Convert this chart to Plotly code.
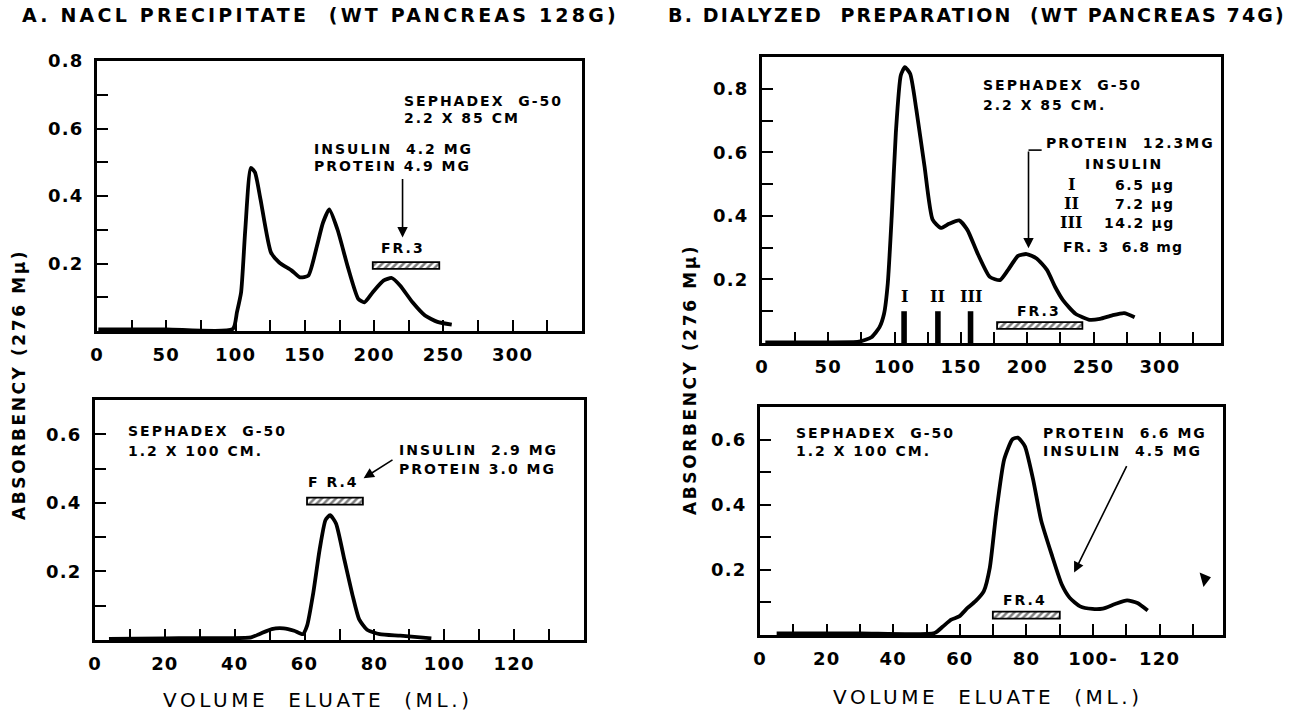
import plotly.graph_objects as go

# ---------------- data ----------------
# A. NaCl precipitate, Sephadex G-50 2.2 x 85 cm
a1_x = [1, 50, 98, 101, 104, 107, 111, 114, 118, 125.5, 131.5, 140.5, 146.5, 152.5,
        158.6, 163, 167.6, 173.6, 181, 188.6, 193, 199, 206.7, 212.7, 218.7, 227.7,
        236.7, 245.7, 256]
a1_y = [0.005, 0.005, 0.006, 0.056, 0.115, 0.30, 0.483, 0.47, 0.39, 0.233, 0.203,
        0.179, 0.159, 0.164, 0.25, 0.32, 0.36, 0.30, 0.19, 0.095, 0.085, 0.115, 0.149,
        0.157, 0.135, 0.085, 0.046, 0.027, 0.019]
a1_frac = [199, 247]          # FR.3 (ml)
a1_frac_level = 0.194

# A. Sephadex G-50 1.2 x 100 cm
a2_x = [4, 20, 44.7, 47, 50.6, 54, 57, 59.5, 60.7, 62.5, 64.3, 66, 67.3, 69, 71.4,
        73.8, 75.6, 77.9, 81.5, 87.4, 96.3]
a2_y = [0.003, 0.005, 0.008, 0.017, 0.032, 0.034, 0.027, 0.017, 0.041, 0.138, 0.263,
        0.35, 0.364, 0.34, 0.234, 0.128, 0.061, 0.03, 0.017, 0.0125, 0.005]
a2_frac = [60.7, 76.7]        # FR.4
a2_frac_level = 0.405

# B. Dialyzed preparation, Sephadex G-50 2.2 x 85 cm
b1_x = [2.5, 40, 73, 82.5, 88.6, 92, 94.8, 97.8, 100.9, 104.6, 107.7, 111.7, 116.3,
        122.5, 128.6, 134.8, 140.9, 148.6, 154.8, 162.5, 171.7, 179.4, 185.5, 193,
        199.4, 207, 214.8, 220.9, 227, 236.3, 247, 254.8, 264, 273, 280.9]
b1_y = [0.002, 0.002, 0.004, 0.018, 0.05, 0.092, 0.187, 0.40, 0.662, 0.842, 0.868,
        0.847, 0.736, 0.556, 0.388, 0.362, 0.375, 0.386, 0.356, 0.282, 0.208, 0.198,
        0.23, 0.274, 0.28, 0.266, 0.23, 0.177, 0.134, 0.092, 0.073, 0.076, 0.087,
        0.094, 0.081]
b1_ins_x = [107.1, 132.6, 157.2]       # insulin fractions I, II, III
b1_ins_y = [0.10, 0.10, 0.10]
b1_ins_lab = ["I", "II", "III"]
b1_frac = [177.2, 241.5]      # FR.3
b1_frac_level = 0.055

# B. Sephadex G-50 1.2 x 100 cm
b2_x = [5, 30, 52.4, 54.9, 57.4, 59.8, 62.3, 64.7, 67.2, 69, 70.9, 73.3, 75.8, 77.4,
        79.5, 82, 84.4, 87.5, 90.6, 93, 96.1, 99.8, 102.9, 106.6, 110.2, 113.3, 116.4]
b2_y = [0.005, 0.005, 0.006, 0.026, 0.047, 0.057, 0.083, 0.104, 0.135, 0.207, 0.373,
        0.539, 0.601, 0.606, 0.58, 0.477, 0.352, 0.249, 0.155, 0.114, 0.088, 0.08,
        0.081, 0.095, 0.106, 0.098, 0.075]
b2_frac = [69.9, 90.0]        # FR.4
b2_frac_level = 0.061
b2_mark_x = [133.5]
b2_mark_y = [0.172]

# tick values / labels
big_x_ticks = list(range(0, 326, 25))
big_x_labels = ["0", "50", "100", "150", "200", "250", "300"]
small_x_ticks = list(range(0, 131, 10))
a_small_x_labels = ["0", "20", "40", "60", "80", "100", "120"]
b_small_x_labels = ["0", "20", "40", "60", "80", "100-", "120"]
y_labels = ["0.2", "0.4", "0.6", "0.8"]

# ---------------- styling helpers ----------------
FONT = "DejaVu Sans"
W, H = 1291, 716


def sp(t, s):
    return f'<span style="letter-spacing:{s}px">{t}</span>'


def dom_x(p0, p1):
    return [p0 / W, p1 / W]


def dom_y(p_top, p_bot):
    return [1 - p_bot / H, 1 - p_top / H]


fig = go.Figure()


def curve(x, y, xa, ya):
    fig.add_trace(go.Scatter(
        x=x, y=y, mode="lines", xaxis=xa, yaxis=ya, showlegend=False,
        hoverinfo="skip",
        line=dict(color="black", width=3.8, shape="spline", smoothing=0.55)))


def frac_bar(fr, level, th, xa, ya):
    fig.add_trace(go.Bar(
        x=[fr[1] - fr[0]], y=[level], base=[fr[0]], orientation="h", width=[th],
        xaxis=xa, yaxis=ya, showlegend=False, hoverinfo="skip",
        marker=dict(color="white", line=dict(color="black", width=1.8),
                    pattern=dict(shape="/", fgcolor="black", bgcolor="white",
                                 size=5, solidity=0.5))))


curve(a1_x, a1_y, "x", "y")
frac_bar(a1_frac, a1_frac_level, 0.02, "x", "y")
curve(a2_x, a2_y, "x2", "y2")
frac_bar(a2_frac, a2_frac_level, 0.02, "x2", "y2")
curve(b1_x, b1_y, "x3", "y3")
frac_bar(b1_frac, b1_frac_level, 0.021, "x3", "y3")
fig.add_trace(go.Bar(x=b1_ins_x, y=b1_ins_y, width=4.2, xaxis="x3", yaxis="y3",
                     marker=dict(color="black", line=dict(width=0)),
                     showlegend=False, hoverinfo="skip"))
curve(b2_x, b2_y, "x4", "y4")
frac_bar(b2_frac, b2_frac_level, 0.022, "x4", "y4")
fig.add_trace(go.Scatter(x=b2_mark_x, y=b2_mark_y, mode="markers", xaxis="x4",
                         yaxis="y4", showlegend=False, hoverinfo="skip",
                         marker=dict(symbol="triangle-right", size=13, angle=-15,
                                     color="black")))


def tick_text(vals, labels, every):
    out = []
    k = 0
    for i, v in enumerate(vals):
        if i % every == 0 and k < len(labels):
            out.append("<b>" + sp(labels[k], 1.2) + "</b>")
            k += 1
        else:
            out.append("")
    return out


def axis(domain, rng, tickvals, ticktext, anchor, is_x):
    d = dict(domain=domain, range=rng, anchor=anchor, showline=True, mirror=True,
             linecolor="black", linewidth=2.6, ticks="inside", ticklen=11,
             tickwidth=2, tickcolor="black", showgrid=False, zeroline=False,
             tickmode="array", tickvals=tickvals, ticktext=ticktext,
             tickfont=dict(family=FONT, size=18, color="black"), fixedrange=True,
             automargin=False, ticklabelstandoff=6 if is_x else 7)
    return d


y_vals_8 = [round(0.1 * i, 1) for i in range(1, 9)]
y_vals_6 = [round(0.1 * i, 1) for i in range(1, 7)]
y_text_8 = ["", "0.2", "", "0.4", "", "0.6", "", "0.8"]
y_text_8 = ["<b>" + sp(t, 1.2) + "</b>" if t else "" for t in y_text_8]
y_text_6 = y_text_8[:6]

fig.update_layout(
    width=W, height=H, margin=dict(l=0, r=0, t=0, b=0),
    paper_bgcolor="white", plot_bgcolor="white", barmode="overlay",
    font=dict(family=FONT, color="black"),
    xaxis=axis(dom_x(97, 582), [0, 350], big_x_ticks,
               tick_text(big_x_ticks, big_x_labels, 2), "y", True),
    yaxis=axis(dom_y(61, 331), [0, 0.8], y_vals_8, y_text_8, "x", False),
    xaxis2=axis(dom_x(95, 584), [0, 140], small_x_ticks,
                tick_text(small_x_ticks, a_small_x_labels, 2), "y2", True),
    yaxis2=axis(dom_y(400, 640), [0, 0.7], y_vals_6, y_text_6, "x2", False),
    xaxis3=axis(dom_x(762, 1221), [0, 346], big_x_ticks,
                tick_text(big_x_ticks, big_x_labels, 2), "y3", True),
    yaxis3=axis(dom_y(57, 343), [0, 0.9], y_vals_8, y_text_8, "x3", False),
    xaxis4=axis(dom_x(760, 1223), [0, 139], small_x_ticks,
                tick_text(small_x_ticks, b_small_x_labels, 2), "y4", True),
    yaxis4=axis(dom_y(407, 635), [0, 0.7], y_vals_6, y_text_6, "x4", False),
)

ann = []


def txt(t, x, y, xa, ya, anchor="left", size=14, s=2.0, family=FONT, bold=True):
    body = sp(t, s)
    if bold:
        body = "<b>" + body + "</b>"
    ann.append(dict(text=body, x=x, y=y, xref=xa, yref=ya, xanchor=anchor,
                    yanchor="middle", showarrow=False,
                    font=dict(family=family, size=size, color="black")))


def arrow(x0, y0, x1, y1, xa, ya):
    ann.append(dict(text="", x=x1, y=y1, ax=x0, ay=y0, xref=xa, yref=ya,
                    axref=xa, ayref=ya, showarrow=True, arrowhead=2,
                    arrowsize=1.3, arrowwidth=1.6, arrowcolor="black"))


# Panel A top
txt("SEPHADEX  G-50", 220, 0.68, "x", "y")
txt("2.2 X 85 CM", 220, 0.63, "x", "y")
txt("INSULIN  4.2 MG", 155.5, 0.54, "x", "y")
txt("PROTEIN 4.9 MG", 155.5, 0.49, "x", "y")
txt("FR.3", 221, 0.245, "x", "y", anchor="center")
arrow(220.5, 0.455, 220.5, 0.277, "x", "y")

# Panel A bottom
txt("SEPHADEX  G-50", 8.9, 0.61, "x2", "y2")
txt("1.2 X 100 CM.", 8.9, 0.552, "x2", "y2")
txt("INSULIN  2.9 MG", 86.5, 0.554, "x2", "y2")
txt("PROTEIN 3.0 MG", 86.5, 0.499, "x2", "y2")
txt("F R.4", 68.4, 0.46, "x2", "y2", anchor="center")
arrow(85.6, 0.528, 76.9, 0.472, "x2", "y2")

# Panel B top
txt("SEPHADEX  G-50", 165, 0.812, "x3", "y3")
txt("2.2 X 85 CM.", 165, 0.749, "x3", "y3")
txt("PROTEIN  12.3MG", 212.3, 0.63, "x3", "y3")
txt("INSULIN", 273, 0.562, "x3", "y3", anchor="center")
for lab, val, yy in zip(["I", "II", "III"], ["6.5 μg", "7.2 μg", "14.2 μg"],
                        [0.498, 0.438, 0.379]):
    txt(lab, 233, yy, "x3", "y3", anchor="center", size=16, s=0,
        family="DejaVu Serif", bold=True)
    txt(val, 313, yy, "x3", "y3", anchor="right", s=1.6)
txt("FR. 3  6.8 mg", 225.5, 0.303, "x3", "y3", s=1.2)
for lab, xx in zip(b1_ins_lab, b1_ins_x):
    txt(lab, xx, 0.145, "x3", "y3", anchor="center", size=16, s=0,
        family="DejaVu Serif", bold=True)
txt("FR.3", 208.6, 0.102, "x3", "y3", anchor="center")
arrow(200.9, 0.607, 200.9, 0.298, "x3", "y3")

# Panel B bottom
txt("SEPHADEX  G-50", 10.3, 0.62, "x4", "y4")
txt("1.2 X 100 CM.", 10.3, 0.565, "x4", "y4")
txt("PROTEIN  6.6 MG", 84.4, 0.62, "x4", "y4")
txt("INSULIN  4.5 MG", 84.4, 0.565, "x4", "y4")
txt("FR.4", 79.5, 0.109, "x4", "y4", anchor="center")
arrow(110.3, 0.523, 94.3, 0.192, "x4", "y4")


# Titles and axis titles (paper coordinates)
def ptxt(t, xp, yp, size, s, anchor="center", angle=0, bold=False):
    body = sp(t, s)
    if bold:
        body = "<b>" + body + "</b>"
    ann.append(dict(text=body, x=xp / W, y=1 - yp / H, xref="paper", yref="paper",
                    xanchor=anchor, yanchor="middle", showarrow=False,
                    textangle=angle, font=dict(family=FONT, size=size, color="black")))


ptxt("A. NACL PRECIPITATE  (WT PANCREAS 128G)", 20, 15, 19, 3.2, anchor="left", bold=True)
ptxt("B. DIALYZED  PREPARATION  (WT PANCREAS 74G)", 666, 15, 19, 2.15, anchor="left", bold=True)
ptxt("ABSORBENCY (276 Mμ)", 19, 385, 17, 2.6, angle=-90, bold=True)
ptxt("ABSORBENCY (276 Mμ)", 690, 380, 17, 2.6, angle=-90, bold=True)
ptxt("VOLUME  ELUATE  (ML.)", 318, 700, 20, 3.6)
ptxt("VOLUME  ELUATE  (ML.)", 988, 697, 20, 3.6)

fig.update_layout(annotations=ann)

# small bracket on the arrow in panel B top
fig.add_shape(type="line", x0=200.9, x1=210.8, y0=0.607, y1=0.607, xref="x3",
              yref="y3", line=dict(color="black", width=1.6))

fig.write_html("out.html")
